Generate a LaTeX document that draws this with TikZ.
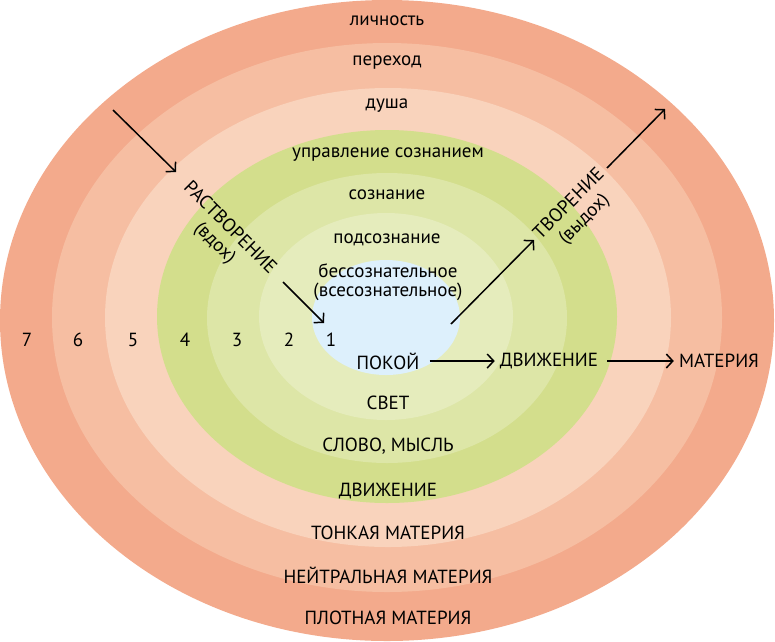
\documentclass[tikz,border=0pt]{standalone}
\usepackage{fontspec}
\setmainfont{PT Sans}
\usetikzlibrary{arrows.meta}
\definecolor{ring7}{RGB}{243,170,140}
\definecolor{ring6}{RGB}{246,190,162}
\definecolor{ring5}{RGB}{249,211,188}
\definecolor{ring4}{RGB}{211,222,140}
\definecolor{ring3}{RGB}{221,230,167}
\definecolor{ring2}{RGB}{229,236,188}
\definecolor{ring1}{RGB}{221,240,252}
\begin{document}
\begin{tikzpicture}[x=1pt,y=-1pt,
  lbl/.style={font=\fontsize{19}{20}\selectfont, inner sep=0pt, text=black},
  rlbl/.style={font=\fontsize{19}{21}\selectfont, inner sep=0pt, text=black, align=center},
  num/.style={font=\fontsize{19}{20}\selectfont, inner sep=0pt},
  arr/.style={line width=1.5pt, -{Straight Barb[length=6.5pt,width=14pt]}}]
\useasboundingbox (0,0) rectangle (775,641);
\fill[ring7] (387,320.5) ellipse [x radius=387, y radius=320.5];
\fill[ring6] (387,317.5) ellipse [x radius=335, y radius=274.5];
\fill[ring5] (388,317.5) ellipse [x radius=283, y radius=229.5];
\fill[ring4] (387,316.5) ellipse [x radius=230, y radius=186.5];
\fill[ring3] (387,318) ellipse [x radius=180, y radius=145];
\fill[ring2] (386,316.5) ellipse [x radius=127, y radius=103.5];
\fill[ring1] (386,317.5) ellipse [x radius=74, y radius=57.5];
% top labels
\node[lbl] (lich) at (387,21) {личность};
\node[lbl] (perehod) at (387,63) {переход};
\node[lbl] (dusha) at (387,106) {душа};
\node[lbl] (upr) at (388,155) {управление сознанием};
\node[lbl] (soz) at (387,195) {сознание};
\node[lbl] (podsoz) at (387,240) {подсознание};
\node[lbl, align=center, font=\fontsize{19}{19}\selectfont] (bessoz) at (388,282) {бессознательное\\(всесознательное)};
% bottom labels
\node[lbl] (pokoi) at (388,361) {ПОКОЙ};
\node[lbl] (dvizh1) at (549,361) {ДВИЖЕНИЕ};
\node[lbl] (mat) at (719,361) {МАТЕРИЯ};
\node[lbl] (svet) at (388,403) {СВЕТ};
\node[lbl] (slovo) at (388,446) {СЛОВО, МЫСЛЬ};
\node[lbl] (dvizh2) at (388,491) {ДВИЖЕНИЕ};
\node[lbl] (tonk) at (388,533) {ТОНКАЯ МАТЕРИЯ};
\node[lbl] (neitr) at (388,575) {НЕЙТРАЛЬНАЯ МАТЕРИЯ};
\node[lbl] (plot) at (388,618) {ПЛОТНАЯ МАТЕРИЯ};
% numbers
\node[num] (n7) at (27,340) {7};
\node[num] (n6) at (78,340) {6};
\node[num] (n5) at (133,340) {5};
\node[num] (n4) at (185,340) {4};
\node[num] (n3) at (237,340) {3};
\node[num] (n2) at (289,340) {2};
\node[num] (n1) at (331,340) {1};
% rotated labels
\node[rlbl, rotate=-45] (rast) at (222,236) {РАСТВОРЕНИЕ\\(вдох)};
\node[rlbl, rotate=45] (tvor) at (577,212) {ТВОРЕНИЕ\\(выдох)};
% arrows
\coordinate (a1) at (113,110);
\coordinate (a2) at (176,172);
\coordinate (b1) at (283,282);
\coordinate (b2) at (324,323);
\coordinate (c1) at (451,324);
\coordinate (c2) at (534,240);
\coordinate (d1) at (607,168);
\coordinate (d2) at (665,109);
\draw[arr] (a1) -- (a2);
\draw[arr] (b1) -- (b2);
\draw[arr] (c1) -- (c2);
\draw[arr] (d1) -- (d2);
\draw[arr] ([xshift=10pt]pokoi.east) -- ([xshift=-5pt]dvizh1.west);
\draw[arr] ([xshift=9pt]dvizh1.east) -- ([xshift=-5pt]mat.west);
\end{tikzpicture}
\end{document}
